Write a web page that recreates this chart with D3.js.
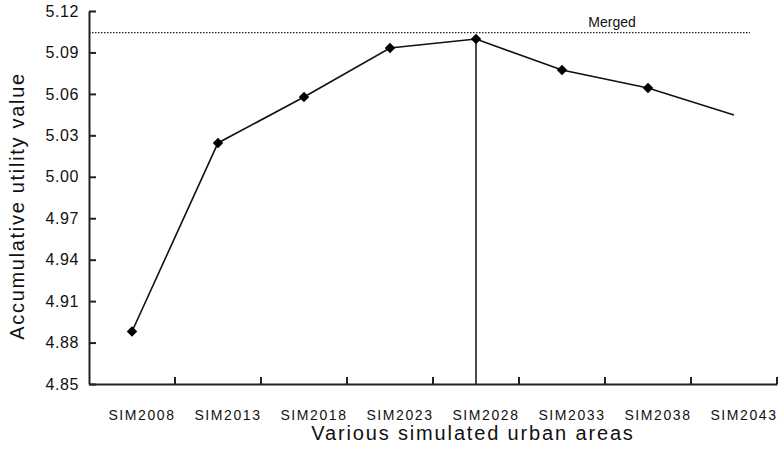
<!DOCTYPE html>
<html lang="en">
  <head>
    <meta charset="UTF-8">
    <script type="text/javascript" src="https://cdn.jsdelivr.net/npm/d3@7"></script>
    <style>
      body { margin: 0; background: #fff; }
      .axis path,
      .axis line {
        stroke: #222;
        stroke-width: 2;
      }
      .axis text {
        font-family: 'Liberation Sans', Arial, sans-serif;
        fill: #111;
      }
      .title {
        font-family: 'Liberation Sans', Arial, sans-serif;
        font-size: 20px;
        fill: #111;
      }
    </style>
  </head>
  <body>
    <script type="text/javascript">
      let w = 780;
      let h = 455;

      // Data
      let categories = ['SIM2008', 'SIM2013', 'SIM2018', 'SIM2023', 'SIM2028', 'SIM2033', 'SIM2038', 'SIM2043'];
      let values = [4.888, 5.0245, 5.0577, 5.0932, 5.0997, 5.0773, 5.0643, 5.0447];
      let yTicks = [4.85, 4.88, 4.91, 4.94, 4.97, 5.00, 5.03, 5.06, 5.09, 5.12];
      let mergedValue = 5.1044;
      let mergedCategory = 'SIM2028';

      let plotLeft = 89, plotRight = 777, plotTop = 11, plotBottom = 384;

      let xScale = d3.scaleBand()
                      .domain(categories)
                      .range([plotLeft, plotRight])
                      .paddingInner(0)
                      .paddingOuter(0);
      let yScale = d3.scaleLinear()
                      .domain([4.85, 5.12])
                      .range([plotBottom, plotTop]);

      let cx = d => xScale(d) + xScale.bandwidth() / 2;

      let svg = d3.select('body')
                  .append('svg')
                  .attr('width', w)
                  .attr('height', h);

      // Merged reference line
      svg.append('line')
          .attr('x1', plotLeft)
          .attr('x2', 750)
          .attr('y1', yScale(mergedValue))
          .attr('y2', yScale(mergedValue))
          .attr('stroke', '#222')
          .attr('stroke-width', 1.3)
          .attr('stroke-dasharray', '1.5,1.5');
      svg.append('text')
          .attr('x', 612)
          .attr('y', yScale(mergedValue) - 6)
          .attr('text-anchor', 'middle')
          .attr('font-family', "'Liberation Sans', Arial, sans-serif")
          .attr('font-size', '14px')
          .attr('fill', '#111')
          .text('Merged');

      // Vertical line at merged category
      svg.append('line')
          .attr('x1', cx(mergedCategory))
          .attr('x2', cx(mergedCategory))
          .attr('y1', yScale(values[categories.indexOf(mergedCategory)]))
          .attr('y2', plotBottom)
          .attr('stroke', '#111')
          .attr('stroke-width', 1.5);

      // Y axis
      let yAxis = d3.axisLeft(yScale)
                      .tickValues(yTicks)
                      .tickFormat(d3.format('.2f'))
                      .tickSizeInner(-7)
                      .tickSizeOuter(0)
                      .tickPadding(10);
      svg.append('g')
          .attr('class', 'y axis')
          .attr('transform', 'translate(' + plotLeft + ',0)')
          .call(yAxis)
          .selectAll('text')
          .attr('font-size', '16px')
          .attr('letter-spacing', '0.6px');

      // X axis
      let xAxis = d3.axisBottom(xScale)
                      .tickSizeInner(0)
                      .tickSizeOuter(0)
                      .tickPadding(26);
      let gx = svg.append('g')
          .attr('class', 'x axis')
          .attr('transform', 'translate(0,' + plotBottom + ')')
          .call(xAxis);
      gx.selectAll('.tick text')
          .attr('font-size', '14px')
          .attr('letter-spacing', '1.6px')
          .attr('dx', 10);
      gx.selectAll('.bandtick')
          .data(categories)
          .enter()
          .append('line')
          .attr('class', 'bandtick')
          .attr('x1', d => xScale(d) + xScale.bandwidth())
          .attr('x2', d => xScale(d) + xScale.bandwidth())
          .attr('y1', 0)
          .attr('y2', -7);

      // Line
      let line = d3.line()
                    .x((d, i) => cx(categories[i]))
                    .y(d => yScale(d));
      svg.append('path')
          .datum(values)
          .attr('d', line)
          .attr('fill', 'none')
          .attr('stroke', '#111')
          .attr('stroke-width', 1.6);

      // Diamond markers (last point has none)
      svg.selectAll('.marker')
          .data(values.slice(0, values.length - 1))
          .enter()
          .append('path')
          .attr('class', 'marker')
          .attr('d', d3.symbol().type(d3.symbolDiamond2).size(70))
          .attr('transform', (d, i) => 'translate(' + cx(categories[i]) + ',' + yScale(d) + ')')
          .attr('fill', '#000');

      // Axis titles
      svg.append('text')
          .attr('class', 'title')
          .attr('x', 473)
          .attr('y', 440)
          .attr('text-anchor', 'middle')
          .attr('letter-spacing', '1.85px')
          .text('Various simulated urban areas');
      svg.append('text')
          .attr('class', 'title')
          .attr('transform', 'translate(24,206) rotate(-90)')
          .attr('text-anchor', 'middle')
          .attr('letter-spacing', '1.7px')
          .text('Accumulative utility value');
    </script>
  </body>
</html>
